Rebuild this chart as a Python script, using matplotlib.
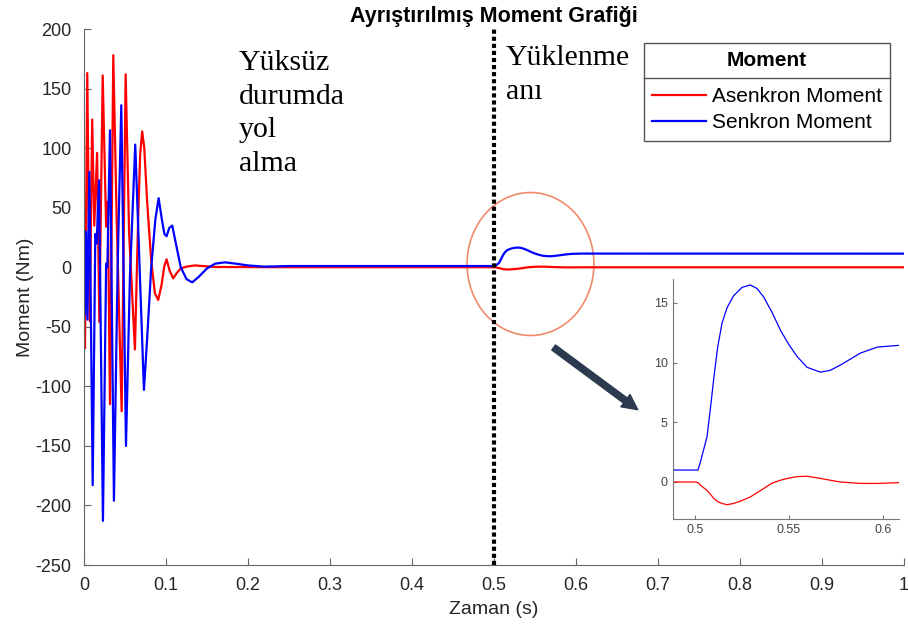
import numpy as np
import matplotlib
matplotlib.use("Agg")
import matplotlib.pyplot as plt
from matplotlib.patches import Ellipse
from matplotlib.lines import Line2D

plt.rcParams['font.family'] = ['Liberation Sans', 'DejaVu Sans']
plt.rcParams['axes.unicode_minus'] = False

# start-up transient (0 - 0.25 s)
t_red_start = [0, 0.0012, 0.004, 0.007, 0.010, 0.0125, 0.016, 0.0187, 0.0228, 0.027,
               0.029, 0.0317, 0.0357, 0.0398, 0.0459, 0.0508, 0.055, 0.0621, 0.066,
               0.0685, 0.071, 0.0735, 0.077, 0.082, 0.0865, 0.0905, 0.0945, 0.098,
               0.1007, 0.1045, 0.1088, 0.113, 0.118, 0.125, 0.135, 0.145, 0.16, 0.25]
red_start = [0, -68, 163, -45, 124, 35, 96, -46, 161, 34,
             55, -115, 178, 42, -121, 162, 29, -69, 40,
             95, 114, 100, 55, 5, -22, -27.5, -15, 1,
             6.6, -3, -9.3, -5, -1, 0.5, 1.5, 1, 0.2, 0]

t_blue_start = [0, 0.001, 0.0025, 0.0042, 0.0065, 0.0106, 0.0138, 0.0155, 0.0183, 0.0231,
                0.027, 0.0285, 0.0317, 0.0365, 0.041, 0.0455, 0.0512, 0.056, 0.0625,
                0.0731, 0.077, 0.082, 0.087, 0.091, 0.095, 0.098, 0.1007, 0.104, 0.1076,
                0.112, 0.118, 0.125, 0.132, 0.14, 0.15, 0.16, 0.172, 0.185, 0.2, 0.22, 0.25]
blue_start = [0, -40, 30, -44, 80, -183, 28, 20, 73, -213,
              3, 0, 115, -196, 0, 136, -150, -8, 103,
              -103, -60, 0, 40, 58, 40, 28, 26, 33, 35,
              20, 0, -10, -12.7, -8, -1, 3, 4.1, 3, 1.5, 0.5, 1.0]

# load step at 0.5 s (also shown in the inset)
t_load = [0.488, 0.5, 0.5015, 0.503, 0.5063, 0.508, 0.51, 0.512, 0.5143, 0.517, 0.5205,
          0.525, 0.5294, 0.533, 0.5365, 0.541, 0.5455, 0.55, 0.5544, 0.5597, 0.5668,
          0.572, 0.5775, 0.5882, 0.5972, 0.6093]
blue_load = [1.0, 1.0, 1.0, 1.8, 3.8, 6.0, 8.8, 11.3, 13.3, 14.6, 15.6,
             16.3, 16.5, 16.2, 15.5, 14.2, 12.7, 11.5, 10.5, 9.6, 9.2,
             9.35, 9.8, 10.8, 11.3, 11.45]
red_load = [0, 0, -0.05, -0.3, -0.7, -1.0, -1.4, -1.65, -1.8, -1.9, -1.8,
            -1.55, -1.25, -0.9, -0.55, -0.1, 0.15, 0.33, 0.45, 0.48, 0.3,
            0.15, 0.0, -0.12, -0.12, -0.05]

t_end = 1.0
red_end = -0.05
blue_end = 11.4

x_ticks = np.arange(0, 1.01, 0.1)
x_labels = ['0', '0.1', '0.2', '0.3', '0.4', '0.5', '0.6', '0.7', '0.8', '0.9', '1']
y_ticks = np.arange(-250, 201, 50)

t_red = t_red_start + t_load + [t_end]
red = red_start + red_load + [red_end]
t_blue = t_blue_start + t_load + [t_end]
blue = blue_start + blue_load + [blue_end]

fig = plt.figure(figsize=(9.08, 6.33), dpi=100)
ax = fig.add_axes([84/908, 1-565/633, (904-84)/908, (565-29)/633])

ax.plot(t_red, red, color='#ff0000', lw=1.6, label='Asenkron Moment')
ax.plot(t_blue, blue, color='#0000ff', lw=1.6, label='Senkron Moment')
ax.axvline(0.5, color='black', lw=3, linestyle=(0, (1, 0.7)))

ax.set_xlim(0, 1)
ax.set_ylim(-250, 200)
ax.set_xticks(x_ticks)
ax.set_xticklabels(x_labels)
ax.set_yticks(y_ticks)
for s in ['top', 'right']:
    ax.spines[s].set_visible(False)
for s in ['left', 'bottom']:
    ax.spines[s].set_color('#666666')
ax.tick_params(direction='in', length=5, colors='#666666', labelcolor='#262626', labelsize=13)
ax.tick_params(axis='x', pad=9)
ax.tick_params(axis='y', pad=9)
ax.set_xlabel('Zaman (s)', fontsize=14, color='#262626', labelpad=5)
ax.set_ylabel('Moment (Nm)', fontsize=14, color='#262626', labelpad=1)
ax.set_title('Ayrıştırılmış Moment Grafiği', fontsize=15.5, fontweight='bold', pad=5)

# annotations
fig.text(239/908, 1-50/633, 'Yüksüz\ndurumda\nyol\nalma', family='Liberation Serif',
         fontsize=21.5, va='top', ha='left', linespacing=1.38)
fig.text(506/908, 1-45/633, 'Yüklenme\nanı', family='Liberation Serif',
         fontsize=21.5, va='top', ha='left', linespacing=1.38)

ax.add_patch(Ellipse((0.5445, 2.7), 0.1547, 120, fill=False, edgecolor='#f08a6c',
                     lw=1.2, clip_on=False))
ax.annotate('', xy=(0.678, -121), xytext=(0.570, -66),
            arrowprops=dict(arrowstyle='simple,head_length=1.1,head_width=1.1,tail_width=0.45',
                            color='#2b3a4f'))

leg = ax.legend(title='Moment', loc='upper right', bbox_to_anchor=(890/908, 1-43/633),
                bbox_transform=fig.transFigure, borderaxespad=0, fancybox=False,
                edgecolor='#555555', framealpha=1, fontsize=15, handlelength=2.6,
                handletextpad=0.25, borderpad=0.4, labelspacing=0.35,
                title_fontproperties={'weight': 'bold', 'size': 15})
leg.get_frame().set_linewidth(1.0)
leg._legend_box.sep = 12

# inset zoom on the load step
axin = fig.add_axes([672.7/908, 1-519/633, (899-672.7)/908, (519-279)/633])
axin.plot(t_load, red_load, color='#ff0000', lw=0.9)
axin.plot(t_load, blue_load, color='#0000ff', lw=0.9)
axin.set_xlim(0.488, 0.6087)
axin.set_ylim(-3.1, 17)
axin.set_xticks([0.5, 0.55, 0.6])
axin.set_xticklabels(['0.5', '0.55', '0.6'])
axin.set_yticks([0, 5, 10, 15])
for s in ['top', 'right']:
    axin.spines[s].set_visible(False)
for s in ['left', 'bottom']:
    axin.spines[s].set_color('#777777')
    axin.spines[s].set_linewidth(0.8)
axin.tick_params(direction='in', length=3, colors='#777777', labelcolor='#444444', labelsize=9)

# separator line under the legend title
fig.canvas.draw()
r = fig.canvas.get_renderer()
lb = leg.get_window_extent(r)
y_sep = lb.y1 - 0.354 * lb.height
inv = fig.transFigure.inverted()
p0 = inv.transform((lb.x0, y_sep))
p1 = inv.transform((lb.x1, y_sep))
fig.add_artist(Line2D([p0[0], p1[0]], [p0[1], p1[1]], transform=fig.transFigure,
                      color='#555555', lw=1.0, zorder=10))

fig.savefig('out.png', dpi=100)
